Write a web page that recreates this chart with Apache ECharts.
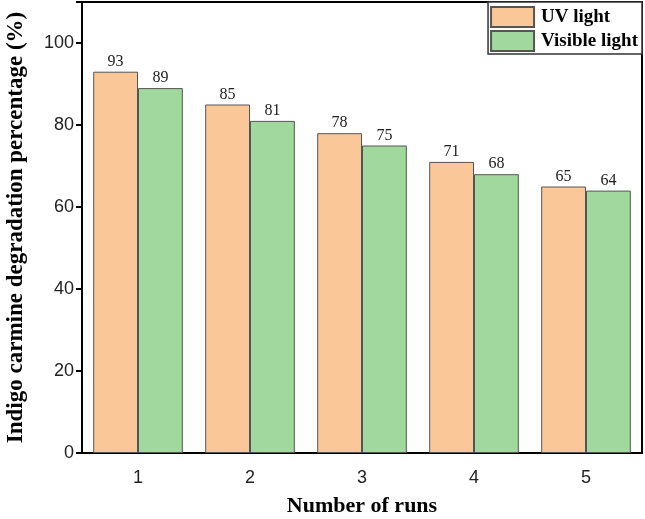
<!DOCTYPE html>
<html>
<head>
<meta charset="utf-8">
<script src="https://cdn.jsdelivr.net/npm/echarts@6/dist/echarts.min.js"></script>
<style>html,body{margin:0;padding:0;background:#fff}#c{width:645px;height:519px}</style>
</head>
<body>
<div id="c"></div>
<script>
var categories = ['1', '2', '3', '4', '5'];
var uvLight = [93, 85, 78, 71, 65];
var visibleLight = [89, 81, 75, 68, 64];
var yTicks = [0, 20, 40, 60, 80, 100];

var chart = echarts.init(document.getElementById('c'), null, {renderer: 'canvas'});
var labelStyle = {show: true, position: 'top', distance: 2, fontFamily: 'Liberation Serif', fontSize: 16, color: '#222'};
chart.setOption({
  animation: false,
  grid: {left: 82, right: 3, top: 2, bottom: 66, show: true, borderColor: '#000', borderWidth: 2,
    backgroundColor: 'transparent', containLabel: false, outerBoundsMode: 'none'},
  legend: {
    right: 3, top: 2, orient: 'vertical', itemWidth: 43, itemHeight: 20, itemGap: 2,
    padding: [4, 4, 2, 2], borderColor: '#333', borderWidth: 1.5, backgroundColor: '#fff',
    textStyle: {fontFamily: 'Liberation Serif', fontWeight: 'bold', fontSize: 19, color: '#000', padding: [0, 0, 0, 2]},
    data: [{name: 'UV light', icon: 'rect'}, {name: 'Visible light', icon: 'rect'}]
  },
  xAxis: {
    type: 'category', data: categories,
    name: 'Number of runs', nameLocation: 'middle', nameGap: 42,
    nameTextStyle: {fontFamily: 'Liberation Serif', fontWeight: 'bold', fontSize: 22, color: '#000'},
    axisLine: {lineStyle: {color: '#000', width: 2}},
    axisTick: {alignWithLabel: true, length: 6, lineStyle: {color: '#000', width: 2}},
    axisLabel: {fontFamily: 'Liberation Sans', fontSize: 18, color: '#222', margin: 16},
    splitLine: {show: false}
  },
  yAxis: {
    type: 'value', min: 0, max: 110, interval: 20,
    name: 'Indigo carmine degradation percentage (%)', nameLocation: 'middle', nameGap: 54,
    nameTextStyle: {fontFamily: 'Liberation Serif', fontWeight: 'bold', fontSize: 23, color: '#000'},
    axisLine: {show: true, lineStyle: {color: '#000', width: 2}},
    axisTick: {show: true, length: 6, lineStyle: {color: '#000', width: 2}},
    axisLabel: {fontFamily: 'Liberation Sans', fontSize: 18, color: '#222', margin: 8,
      formatter: function (v) { return yTicks.indexOf(v) >= 0 ? String(v) : ''; }},
    splitLine: {show: false}
  },
  series: [
    {name: 'UV light', type: 'bar', data: uvLight, barWidth: '40%', barGap: '0%',
      itemStyle: {color: '#FAC898', borderColor: '#555', borderWidth: 1}, label: labelStyle},
    {name: 'Visible light', type: 'bar', data: visibleLight, barWidth: '40%', barGap: '0%',
      itemStyle: {color: '#A0D89D', borderColor: '#555', borderWidth: 1}, label: labelStyle}
  ]
});
</script>
</body>
</html>
